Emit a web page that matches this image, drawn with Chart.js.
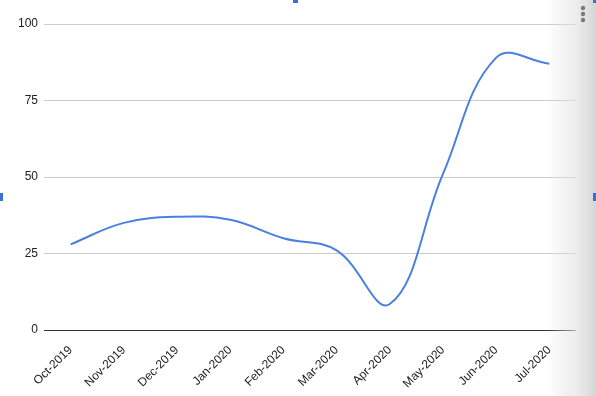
<!DOCTYPE html>
<html>
<head>
<meta charset="utf-8">
<script src="https://cdn.jsdelivr.net/npm/chart.js@4/dist/chart.umd.min.js"></script>
<style>
  html, body { margin: 0; padding: 0; background: #fff; }
</style>
</head>
<body>
<canvas id="chart" width="596" height="396"></canvas>
<script>
const months = ['Oct-2019', 'Nov-2019', 'Dec-2019', 'Jan-2020', 'Feb-2020',
                'Mar-2020', 'Apr-2020', 'May-2020', 'Jun-2020', 'Jul-2020'];
const values = [28, 35, 37, 36, 30, 26, 8.5, 51, 89, 87];
const yTicks = [0, 25, 50, 75, 100];

// grey edge shadow, selection handles and the menu dots seen in the screenshot
const extras = {
    id: 'extras',
    afterDraw(chart) {
        const c = chart.ctx;
        c.save();
        const g = c.createLinearGradient(548, 0, 596, 0);
        g.addColorStop(0, 'rgba(220,220,220,0)');
        g.addColorStop(0.6, 'rgba(228,228,228,0.7)');
        g.addColorStop(1, 'rgba(212,212,212,1)');
        c.fillStyle = g;
        c.fillRect(548, 0, 48, 396);

        c.fillStyle = '#3b6fd6';
        c.fillRect(293, 0, 5, 3);
        c.fillRect(0, 193, 3, 8);
        c.fillRect(593, 193, 3, 8);
        c.fillRect(593, 0, 3, 3);
        c.fillStyle = '#7a7a7a';
        [8, 14, 20].forEach(y => {
            c.beginPath();
            c.arc(583, y, 2.2, 0, Math.PI * 2);
            c.fill();
        });
        c.restore();
    }
};

new Chart(document.getElementById('chart'), {
    type: 'line',
    data: {
        labels: months,
        datasets: [{
            data: values,
            borderColor: '#4a80e0',
            borderWidth: 2,
            pointRadius: 0,
            tension: 0.4,
            fill: false
        }]
    },
    options: {
        responsive: false,
        animation: false,
        layout: { padding: { top: 24, right: 20, left: 0, bottom: 0 } },
        plugins: { legend: { display: false }, tooltip: { enabled: false } },
        scales: {
            x: {
                offset: true,
                grid: { display: false },
                border: { display: false },
                ticks: {
                    minRotation: 45, maxRotation: 45,
                    color: '#222',
                    padding: 5,
                    font: { family: 'Liberation Sans, Arial', size: 12 }
                },
                afterFit(scale) { scale.height = 66; }
            },
            y: {
                min: 0, max: 100,
                afterBuildTicks(scale) { scale.ticks = yTicks.map(v => ({ value: v })); },
                grid: {
                    drawTicks: false,
                    color: ctx => ctx.tick && ctx.tick.value === 0 ? '#333' : '#ccc',
                    lineWidth: 1
                },
                border: { display: false },
                ticks: {
                    color: '#222',
                    padding: 6,
                    font: { family: 'Liberation Sans, Arial', size: 12 }
                },
                afterFit(scale) { scale.width = 44; }
            }
        }
    },
    plugins: [extras]
});
</script>
</body>
</html>
